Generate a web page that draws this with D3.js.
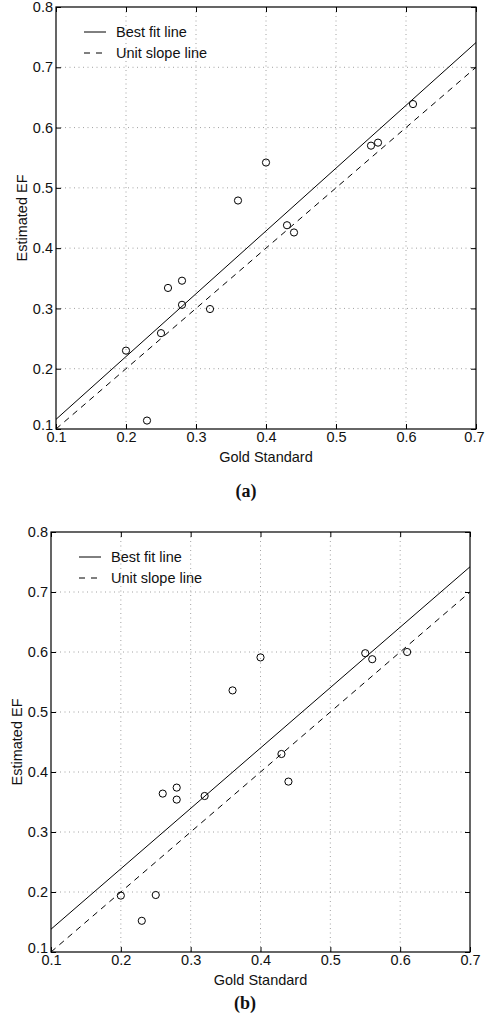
<!DOCTYPE html>
<html>
<head>
<meta charset="utf-8">
<script src="https://cdn.jsdelivr.net/npm/d3@7/dist/d3.min.js"></script>
<style>
  html, body { margin: 0; padding: 0; background: #fff; }
  svg { display: block; }
  text { font-family: "Liberation Sans", Arial, Helvetica, sans-serif; fill: #111; }
  .caption { font-family: "Liberation Serif", "Times New Roman", serif; font-weight: bold; }
</style>
</head>
<body>
<svg id="chart" width="485" height="1020"></svg>
<script>
// Axis ticks shared by both panels
const xTicks = [0.1, 0.2, 0.3, 0.4, 0.5, 0.6, 0.7];
const yTicks = [0.1, 0.2, 0.3, 0.4, 0.5, 0.6, 0.7, 0.8];
const xLabel = "Gold Standard";
const yLabel = "Estimated EF";
const legendLabels = ["Best fit line", "Unit slope line"];

// Panel (a): gold standard vs estimated EF
const goldA = [0.20, 0.23, 0.25, 0.26, 0.28, 0.28, 0.32, 0.36, 0.40, 0.43, 0.44, 0.55, 0.56, 0.61];
const estA  = [0.230, 0.114, 0.259, 0.334, 0.346, 0.306, 0.299, 0.479, 0.542, 0.438, 0.426, 0.570, 0.575, 0.639];
const fitA  = [[0.1, 0.116], [0.7, 0.741]];

// Panel (b)
const goldB = [0.20, 0.23, 0.25, 0.26, 0.28, 0.28, 0.32, 0.36, 0.40, 0.43, 0.44, 0.55, 0.56, 0.61];
const estB  = [0.194, 0.152, 0.195, 0.364, 0.374, 0.354, 0.360, 0.536, 0.591, 0.430, 0.384, 0.598, 0.588, 0.600];
const fitB  = [[0.1, 0.138], [0.7, 0.742]];

const unitLine = [[0.1, 0.1], [0.7, 0.7]];
const captions = ["(a)", "(b)"];

const panels = [
  { gold: goldA, est: estA, fit: fitA, caption: captions[0],
    left: 56, top: 7, right: 476, bottom: 429, captionX: 246, captionY: 497 },
  { gold: goldB, est: estB, fit: fitB, caption: captions[1],
    left: 51, top: 532, right: 470, bottom: 952, captionX: 245, captionY: 1009 }
];

const svg = d3.select("#chart");
const tickLen = 5;
const width = +svg.attr("width");

panels.forEach(p => {
  const x = d3.scaleLinear().domain([0.1, 0.7]).range([p.left, p.right]);
  const y = d3.scaleLinear().domain([0.1, 0.8]).range([p.bottom, p.top]);
  const g = svg.append("g");

  // dotted grid
  const grid = g.append("g")
    .attr("stroke", "#8a8a8a").attr("stroke-width", 0.8)
    .attr("stroke-dasharray", "1,3.5");
  grid.selectAll(".gx").data(xTicks.slice(1, -1)).join("line")
    .attr("x1", d => x(d)).attr("x2", d => x(d))
    .attr("y1", p.top).attr("y2", p.bottom);
  grid.selectAll(".gy").data(yTicks.slice(1, -1)).join("line")
    .attr("y1", d => y(d)).attr("y2", d => y(d))
    .attr("x1", p.left).attr("x2", p.right);

  // axes with inward ticks on all four sides
  const fmt = d3.format(".1f");
  const bottomAxis = g.append("g").attr("transform", `translate(0,${p.bottom})`)
    .call(d3.axisBottom(x).tickValues(xTicks).tickFormat(fmt).tickSizeInner(-tickLen).tickSizeOuter(0).tickPadding(3));
  const leftAxis = g.append("g").attr("transform", `translate(${p.left},0)`)
    .call(d3.axisLeft(y).tickValues(yTicks).tickFormat(fmt).tickSizeInner(-tickLen).tickSizeOuter(0).tickPadding(3));
  const topAxis = g.append("g").attr("transform", `translate(0,${p.top})`)
    .call(d3.axisTop(x).tickValues(xTicks).tickFormat("").tickSizeInner(-tickLen).tickSizeOuter(0));
  const rightAxis = g.append("g").attr("transform", `translate(${p.right},0)`)
    .call(d3.axisRight(y).tickValues(yTicks).tickFormat("").tickSizeInner(-tickLen).tickSizeOuter(0));
  [bottomAxis, leftAxis, topAxis, rightAxis].forEach(a => {
    a.select(".domain").remove();
    a.selectAll("line").attr("stroke", "#000").attr("stroke-width", 1);
    a.selectAll("text").style("font-size", "14.5px").attr("fill", "#111");
  });

  // keep the last x tick label inside the page
  bottomAxis.selectAll(".tick text").each(function () {
    const b = this.getBBox();
    const tx = x(d3.select(this.parentNode).datum());
    const overflow = tx + b.x + b.width - (width - 1);
    if (overflow > 0) d3.select(this).attr("x", -overflow);
  });
  // lift the lowest y label so it clears the first x label at the corner
  leftAxis.selectAll(".tick text").filter(d => d === yTicks[0]).attr("y", -4);

  // frame
  g.append("rect")
    .attr("x", p.left).attr("y", p.top)
    .attr("width", p.right - p.left).attr("height", p.bottom - p.top)
    .attr("fill", "none").attr("stroke", "#000").attr("stroke-width", 1.2);

  const line = d3.line().x(d => x(d[0])).y(d => y(d[1]));

  // best fit (solid) and unit slope (dashed)
  g.append("path").datum(p.fit).attr("d", line)
    .attr("fill", "none").attr("stroke", "#000").attr("stroke-width", 1);
  g.append("path").datum(unitLine).attr("d", line)
    .attr("fill", "none").attr("stroke", "#000").attr("stroke-width", 1)
    .attr("stroke-dasharray", "6,5");

  // points
  g.append("g").selectAll("circle").data(p.gold.map((v, i) => [v, p.est[i]])).join("circle")
    .attr("cx", d => x(d[0])).attr("cy", d => y(d[1])).attr("r", 3.6)
    .attr("fill", "none").attr("stroke", "#000").attr("stroke-width", 1);

  // legend
  const lx = p.left + 28, ly = p.top + 25;
  const lg = g.append("g");
  legendLabels.forEach((lab, i) => {
    const yy = ly + i * 21;
    lg.append("line").attr("x1", lx).attr("x2", lx + 22).attr("y1", yy).attr("y2", yy)
      .attr("stroke", "#000").attr("stroke-width", 1)
      .attr("stroke-dasharray", i === 1 ? "6,6" : null);
    lg.append("text").attr("x", lx + 32).attr("y", yy + 5)
      .style("font-size", "14.5px").text(lab);
  });

  // axis titles
  const cx = (p.left + p.right) / 2;
  g.append("text").attr("x", cx).attr("y", p.bottom + 33)
    .attr("text-anchor", "middle").style("font-size", "14.5px").text(xLabel);
  g.append("text")
    .attr("transform", `translate(${p.left - 29},${(p.top + p.bottom) / 2}) rotate(-90)`)
    .attr("text-anchor", "middle").style("font-size", "14.5px").text(yLabel);

  // panel caption
  g.append("text").attr("class", "caption").attr("x", p.captionX).attr("y", p.captionY)
    .attr("text-anchor", "middle").style("font-size", "18px").text(p.caption);
});
</script>
</body>
</html>
